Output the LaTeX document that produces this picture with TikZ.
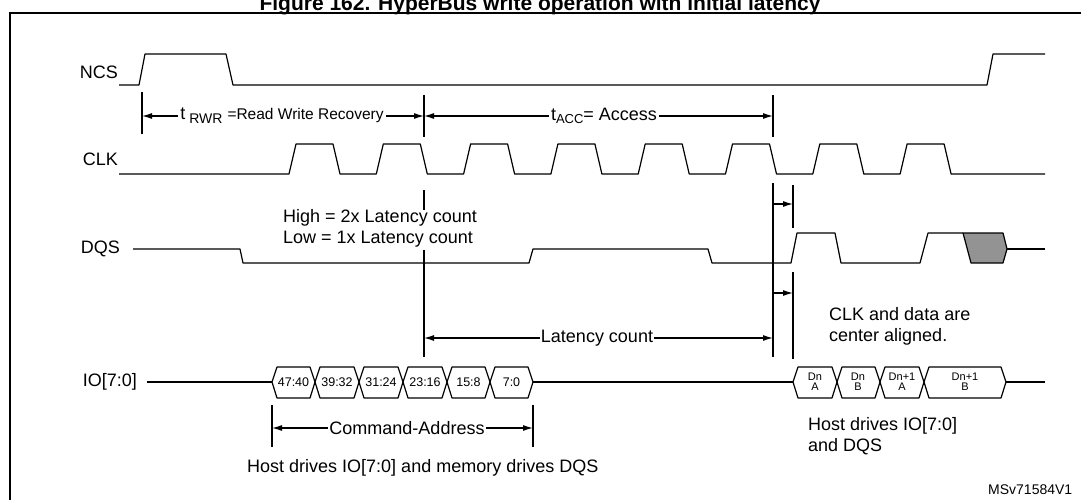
\documentclass[tikz,border=0pt]{standalone}
\usepackage{fontspec}
\setmainfont{Liberation Sans}
\usetikzlibrary{arrows.meta}
\newcommand\hexcell[3]{%
  \draw[wave] (#1,382)--(#1+5,367)--(#2-5,367)--(#2,382)--(#2-5,398)--(#1+5,398)--cycle;
  \node[small] at ({(#1+#2)/2},382) {#3};}
\begin{document}
\begin{tikzpicture}[x=1pt,y=-1pt,
  wave/.style={line width=1.2pt,line join=round},
  lbl/.style={font=\fontsize{18}{21}\selectfont,inner sep=0pt},
  small/.style={font=\fontsize{12.5}{12}\selectfont,inner sep=0pt,align=center},
  tiny/.style={font=\fontsize{11}{10}\selectfont,inner sep=0pt,align=center},
  tick/.style={line width=1.2pt},
  arr/.style={line width=1.2pt,-{Latex[length=10pt,width=6pt]}}]
\useasboundingbox (0,0) rectangle (1081,500);
\fill[white] (0,0) rectangle (1081,500);
% frame and title
\draw[line width=1.6pt] (10,520) -- (10,13) -- (1100,13);
\node[font=\bfseries\fontsize{21}{22}\selectfont,anchor=base] (title) at (540,10.5) {Figure 162. HyperBus write operation with initial latency};
% signal labels
\node[lbl,anchor=east] (ncs) at (118,72) {NCS};
\node[lbl,anchor=east] (clk) at (118,159) {CLK};
\node[lbl,anchor=east] (dqs) at (120,249) {DQS};
\node[lbl,anchor=east] (io) at (137,382) {IO[7:0]};
% NCS
\draw[wave] (119,85)--(139,85)--(145,54)--(226,54)--(233,85)--(987,85)--(993,54)--(1045,54);
% CLK
\draw[wave] (119,174) foreach \i in {0,...,7} {
  -- ({289+87.3*\i},174) -- ({296+87.3*\i},144) -- ({333+87.3*\i},144) -- ({340+87.3*\i},174)} -- (1045,174);
% DQS
\draw[wave] (133,249)--(240,249)--(243,263)--(529,263)--(533,249)--(708,249)--(712,263)--(791,263)--(797,233)--(835,233)--(841,263)--(920,263)--(928,233)--(963,233);
\draw[wave,fill=gray!85] (963,233)--(1003,233)--(1007,249)--(1003,263)--(971,263)--cycle;
\draw[wave] (1007,249)--(1045,249);
% IO
\draw[wave] (147,382)--(272,382);
\hexcell{272}{315}{47:40}
\hexcell{315}{359}{39:32}
\hexcell{359}{403}{31:24}
\hexcell{403}{447}{23:16}
\hexcell{447}{490}{15:8}
\hexcell{490}{533}{7:0}
\draw[wave] (533,382)--(793,382);
\hexcell{793}{837}{}
\node[tiny] at (815,382) {Dn\\A};
\hexcell{837}{880}{}
\node[tiny] at (858,382) {Dn\\B};
\hexcell{880}{924}{}
\node[tiny] at (902,382) {Dn+1\\A};
\hexcell{924}{1006}{}
\node[tiny] at (965,382) {Dn+1\\B};
\draw[wave] (1006,382)--(1045,382);
% tRWR / tACC
\coordinate (a0) at (142,116); \coordinate (a1) at (424,116); \coordinate (a2) at (773,116);
\draw[tick] (142,92)--(142,134);
\draw[tick] (424,95)--(424,137);
\draw[tick] (773,95)--(773,137);
\draw[arr] (282,116) -- (a0);
\draw[arr] (282,116) -- (a1);
\draw[arr] (604,116) -- (a1);
\draw[arr] (604,116) -- (a2);
\node[lbl,fill=white,inner xsep=2pt,inner ysep=3pt] (trwr) at (282,116) {t\raisebox{-0.4ex}{\fontsize{14}{14}\selectfont\ RWR}\ \fontsize{15.5}{16}\selectfont =Read Write Recovery};
\node[lbl,fill=white,inner xsep=2pt,inner ysep=3pt] (tacc) at (604,116) {t\raisebox{-0.3ex}{\fontsize{13}{13}\selectfont ACC}= Access};
% latency annotation
\draw[tick] (424,190)--(424,210);
\draw[tick] (424,250)--(424,357);
\node[lbl,anchor=west,align=left] (hl) at (283,228) {High = 2x Latency count\\Low = 1x Latency count};
\coordinate (l0) at (424,338); \coordinate (l1) at (773,338);
\draw[tick] (773,183)--(773,357);
\draw[arr] (597,338) -- (l0);
\draw[arr] (597,338) -- (l1);
\node[lbl,fill=white,inner xsep=1pt,inner ysep=3pt] (lat) at (597,338) {Latency count};
% center alignment
\draw[tick] (793,185)--(793,228);
\draw[tick] (793,272)--(793,359);
\coordinate (c1) at (793,204); \coordinate (c2) at (793,293);
\draw[arr] (773,204) -- (c1);
\draw[arr] (773,293) -- (c2);
\node[lbl,anchor=west,align=left] (cen) at (829,326) {CLK and data are\\center aligned.};
% command address
\draw[tick] (272,405)--(272,447);
\draw[tick] (533,405)--(533,447);
\coordinate (ca0) at (272,428); \coordinate (ca1) at (533,428);
\draw[arr] (407,428) -- (ca0);
\draw[arr] (407,428) -- (ca1);
\node[lbl,fill=white,inner xsep=1pt,inner ysep=3pt] (cmd) at (407,428) {Command-Address};
\node[lbl,anchor=west] (host1) at (247,468) {Host drives IO[7:0] and memory drives DQS};
\node[lbl,anchor=west,align=left] (host2) at (808,436) {Host drives IO[7:0]\\and DQS};
\node[font=\fontsize{14}{14}\selectfont,anchor=west,inner sep=0pt] (ms) at (988,490) {MSv71584V1};
\end{tikzpicture}
\end{document}
